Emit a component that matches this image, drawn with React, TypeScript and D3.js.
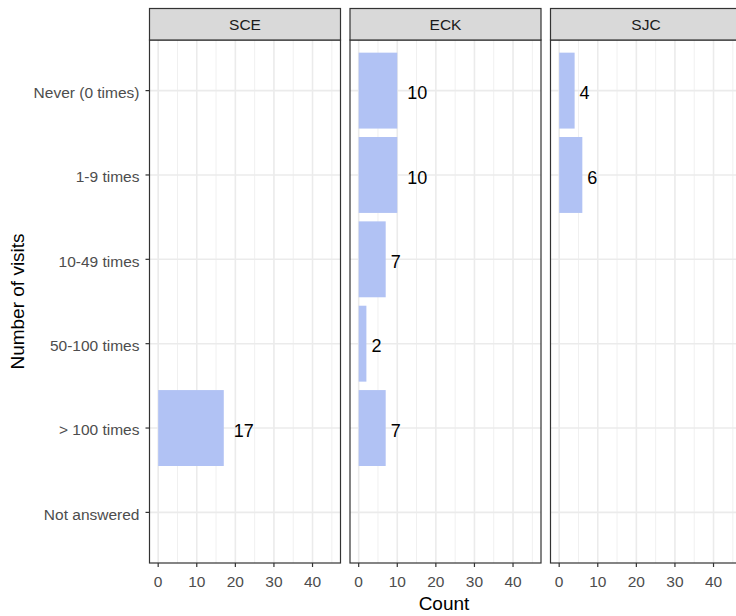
import React from "react";
import * as d3 from "d3";

const categories = ["Never (0 times)", "1-9 times", "10-49 times", "50-100 times", "> 100 times", "Not answered"];
const panels = ["SCE", "ECK", "SJC"];
const sceValues = [0, 0, 0, 0, 17, 0];
const eckValues = [10, 10, 7, 2, 7, 0];
const sjcValues = [4, 6, 0, 0, 0, 0];
const xTicks = [0, 10, 20, 30, 40];
const xMinor = [5, 15, 25, 35, 45];

const seriesValues = [sceValues, eckValues, sjcValues];

const W = 736, H = 616;
const panelLefts = [149.5, 350, 550.5];
const panelW = 191;
const stripTop = 8.5, stripBottom = 40;
const panelBottom = 563;
const font = "'Liberation Sans', Arial, sans-serif";
const barColor = "#B1C2F4";

function textWidth(s: string, size: number) {
  return s.length * 0.556 * size;
}

export default function App() {
  const y = d3.scaleLinear().domain([0.4, 6.6]).range([stripBottom, panelBottom]);
  const bandH = (y(1) - y(0)) * 0.9;
  return (
    <svg width={W} height={H} style={{ position: "absolute", left: 0, top: 0, background: "#fff" }} fontFamily={font}>
      <rect x={0} y={0} width={W} height={H} fill="#fff" />
      {panels.map((p, pi) => {
        const left = panelLefts[pi];
        const x = d3.scaleLinear().domain([-2.25, 47.25]).range([left, left + panelW]);
        const vals = seriesValues[pi];
        return (
          <g key={p}>
            {xMinor.map((t) => (
              <line key={"m" + t} x1={x(t)} x2={x(t)} y1={stripBottom} y2={panelBottom} stroke="#F0F0F0" strokeWidth={1} />
            ))}
            {xTicks.map((t) => (
              <line key={"M" + t} x1={x(t)} x2={x(t)} y1={stripBottom} y2={panelBottom} stroke="#EBEBEB" strokeWidth={1.6} />
            ))}
            {categories.map((c, i) => (
              <line key={c} x1={left} x2={left + panelW} y1={y(i + 1)} y2={y(i + 1)} stroke="#EBEBEB" strokeWidth={1.6} />
            ))}
            {vals.map((v, i) =>
              v > 0 ? (
                <rect key={"b" + i} x={x(0)} y={y(i + 1) - bandH / 2} width={x(v) - x(0)} height={bandH} fill={barColor} />
              ) : null
            )}
            {vals.map((v, i) =>
              v > 0 ? (
                <text key={"t" + i} x={x(v) + 0.5 * textWidth(String(v), 18)} y={y(i + 1)} dy="0.48em" fontSize={18} fill="#000">
                  {v}
                </text>
              ) : null
            )}
            <rect x={left} y={stripBottom} width={panelW} height={panelBottom - stripBottom} fill="none" stroke="#333" strokeWidth={1.2} />
            <rect x={left} y={stripTop} width={panelW} height={stripBottom - stripTop} fill="#D9D9D9" stroke="#333" strokeWidth={1.2} />
            <text x={left + panelW / 2} y={(stripTop + stripBottom) / 2} dy="0.38em" textAnchor="middle" fontSize={15.5} fill="#1A1A1A">
              {p}
            </text>
            {xTicks.map((t) => (
              <g key={"xt" + t}>
                <line x1={x(t)} x2={x(t)} y1={panelBottom} y2={panelBottom + 4} stroke="#333" strokeWidth={1.2} />
                <text x={x(t)} y={panelBottom + 24} textAnchor="middle" fontSize={15.5} fill="#4D4D4D">
                  {t}
                </text>
              </g>
            ))}
          </g>
        );
      })}
      {categories.map((c, i) => (
        <g key={"yt" + c}>
          <line x1={panelLefts[0] - 4} x2={panelLefts[0]} y1={y(i + 1)} y2={y(i + 1)} stroke="#333" strokeWidth={1.2} />
          <text x={panelLefts[0] - 10} y={y(i + 1)} dy="0.48em" textAnchor="end" fontSize={15.5} fill="#4D4D4D">
            {c}
          </text>
        </g>
      ))}
      <text x={444} y={610} textAnchor="middle" fontSize={19} fill="#000">Count</text>
      <text transform={`translate(24, ${(stripBottom + panelBottom) / 2}) rotate(-90)`} textAnchor="middle" fontSize={19} fill="#000">
        Number of visits
      </text>
    </svg>
  );
}
